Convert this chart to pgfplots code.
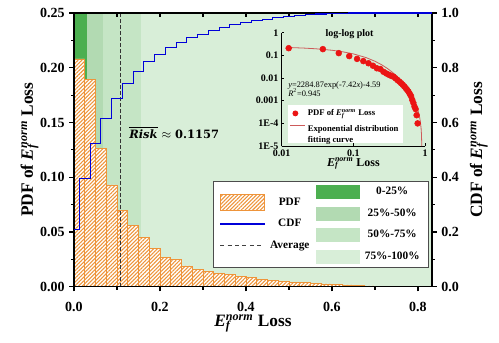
\documentclass[border=0pt]{standalone}
\usepackage{pgfplots}
\pgfplotsset{compat=1.18}
\usepackage{pgfplotstable}
\usepackage{fontspec}
\setmainfont{Liberation Serif}
\newfontfamily\riskfont{DejaVu Serif}
\usetikzlibrary{patterns.meta,calc}

\definecolor{hatch}{RGB}{238,148,58}
\definecolor{gA}{RGB}{76,175,80}
\definecolor{gB}{RGB}{178,218,178}
\definecolor{gC}{RGB}{197,229,197}
\definecolor{gD}{RGB}{216,238,216}
\definecolor{cdfblue}{RGB}{30,40,210}
\definecolor{dotred}{RGB}{235,20,20}
\definecolor{fitred}{RGB}{205,90,90}

\newcommand{\Ef}{\textit{E}\makebox[0pt][l]{\textsubscript{\textit{f}}}\textsuperscript{\textit{norm}}}

\pgfplotstableread{
xc pdf
0.0125 0.208
0.0375 0.189
0.0625 0.126
0.0875 0.093
0.1125 0.070
0.1375 0.056
0.1625 0.045
0.1875 0.035
0.2125 0.027
0.2375 0.025
0.2625 0.019
0.2875 0.016
0.3125 0.014
0.3375 0.0125
0.3625 0.0115
0.3875 0.0097
0.4125 0.0082
0.4375 0.007
0.4625 0.006
0.4875 0.0051
0.5125 0.0043
0.5375 0.0036
0.5625 0.003
0.5875 0.0025
0.6125 0.0020
0.6375 0.0016
0.6625 0.0011
0.6875 0.0008
0.7125 0.00055
0.7375 0.00043
0.7625 0.00023
0.7875 0.0001
}\pdfdata

\pgfplotstableread{
x y
0.012 0.2238
0.02 0.2109
0.03 0.1958
0.05 0.1688
0.07 0.1455
0.1 0.1164
0.15 0.0802
0.2 0.0552
0.25 0.0380
0.3 0.0262
0.35 0.0180
0.4 0.0123
0.45 0.0084
0.5 0.0057
0.55 0.00384
0.6 0.00256
0.65 0.00167
0.7 0.00106
0.75 0.000642
0.8 0.000351
0.82 0.000261
0.84 0.000184
0.86 0.000118
0.88 0.0000607
0.89 0.0000352
0.9 0.0000115
0.9012 0.00001
}\fitdata

\begin{document}
\begin{tikzpicture}
% ---------- main PDF axis ----------
\begin{axis}[name=main, scale only axis, width=268.5pt, height=205.3pt,
  xmin=0, xmax=0.8326, ymin=0, ymax=0.25,
  axis x line*=bottom, axis y line*=left,
  axis line style={line width=0.9pt},
  tick align=outside, major tick length=3.5pt, minor tick length=2.2pt,
  tick style={black, line width=0.8pt},
  xtick={0,0.2,0.4,0.6,0.8}, xticklabels={0.0,0.2,0.4,0.6,0.8},
  minor xtick={0.1,0.3,0.5,0.7},
  ytick={0,0.05,0.1,0.15,0.2,0.25}, yticklabels={0.00,0.05,0.10,0.15,0.20,0.25},
  minor ytick={0.025,0.075,0.125,0.175,0.225},
  ticklabel style={font=\fontsize{10.5}{12}\selectfont\bfseries},
  xticklabel style={yshift=-4.5pt},
  xlabel={\Ef{} Loss}, ylabel={PDF of \Ef{} Loss},
  label style={font=\fontsize{13}{15}\selectfont\bfseries},
  xlabel style={at={(axis description cs:0.5,-0.146)}, anchor=base},
  ylabel style={at={(axis description cs:-0.115,0.5)}, anchor=base},
]
\addplot[fill=gD, draw=none] coordinates {(0.155,0.25) (0.8326,0.25)} \closedcycle;
\addplot[fill=gC, draw=none] coordinates {(0.068,0.25) (0.155,0.25)} \closedcycle;
\addplot[fill=gB, draw=none] coordinates {(0.0295,0.25) (0.068,0.25)} \closedcycle;
\addplot[fill=gA, draw=none] coordinates {(0,0.25) (0.0295,0.25)} \closedcycle;
\addplot[ybar, bar width=0.025, bar shift=0pt, draw=hatch, line width=0.5pt, fill=white,
  postaction={pattern={Lines[angle=45,distance=2pt,line width=0.8pt]}, pattern color=hatch}]
  table[x=xc,y=pdf]{\pdfdata};
\addplot[black!80, line width=0.6pt, dash pattern=on 2.5pt off 2pt] coordinates {(0.108,0) (0.108,0.25)};
\node[anchor=base west, inner sep=0pt, font=\riskfont\fontsize{8.6}{10}\selectfont\bfseries]
  at (axis cs:0.128,0.1357) {$\overline{\hbox{\itshape Risk}}$ $\approx$ 0.1157};
\end{axis}

% ---------- box with inside top ticks ----------
\begin{axis}[at={(main.south west)}, anchor=south west, scale only axis,
  width=268.5pt, height=205.3pt,
  xmin=0, xmax=0.8326, ymin=0, ymax=1,
  axis line style={line width=0.9pt},
  tick align=inside, major tick length=3pt, minor tick length=3pt,
  tick style={black, line width=0.8pt},
  xtick pos=top, ytick=\empty,
  xtick={0,0.2,0.4,0.6,0.8}, minor xtick={0.1,0.3,0.5,0.7}, xticklabels={},
]
\addplot[draw=none, mark=none, forget plot] coordinates {(0,0) (0.8,1)};
\end{axis}

% ---------- CDF axis (right) ----------
\begin{axis}[at={(main.south west)}, anchor=south west, scale only axis,
  width=268.5pt, height=205.3pt,
  xmin=0, xmax=0.8326, ymin=0, ymax=1,
  axis x line*=top, axis y line*=right, xtick=\empty,
  axis line style={line width=0.9pt},
  tick align=outside, major tick length=3.5pt, minor tick length=2.2pt,
  tick style={black, line width=0.8pt},
  ytick={0,0.2,0.4,0.6,0.8,1}, yticklabels={0.0,0.2,0.4,0.6,0.8,1.0},
  minor ytick={0.1,0.3,0.5,0.7,0.9},
  ticklabel style={font=\fontsize{10.5}{12}\selectfont\bfseries},
  ylabel={CDF of \Ef{} Loss},
  label style={font=\fontsize{13}{15}\selectfont\bfseries},
  ylabel style={at={(axis description cs:1.14,0.5)}, anchor=base},
  legend columns=2, legend cell align=center,
  legend style={at={(axis description cs:0.993,0.068)}, anchor=south east,
    draw=black!70, line width=0.8pt, fill=white, inner xsep=5pt, inner ysep=0pt,
    row sep=0pt, font=\fontsize{8.5}{10}\selectfont\bfseries,
    nodes={inner xsep=2pt},
    /tikz/every odd column/.append style={column sep=2pt},
    /tikz/every even column/.append style={column sep=3pt}},
]
\addplot[sharp plot, draw=blue!85!black, line width=0.8pt, mark=none, forget plot, line join=miter]
  coordinates {(0,0.208) (0.0125,0.208) (0.0125,0.397) (0.0375,0.397) (0.0375,0.523) (0.0625,0.523)
  (0.0625,0.616) (0.0875,0.616) (0.0875,0.686) (0.1125,0.686) (0.1125,0.742) (0.1375,0.742)
  (0.1375,0.787) (0.1625,0.787) (0.1625,0.822) (0.1875,0.822) (0.1875,0.849) (0.2125,0.849)
  (0.2125,0.874) (0.2375,0.874) (0.2375,0.893) (0.2625,0.893) (0.2625,0.909) (0.2875,0.909)
  (0.2875,0.923) (0.3125,0.923) (0.3125,0.9355) (0.3375,0.9355) (0.3375,0.947) (0.3625,0.947)
  (0.3625,0.9567) (0.3875,0.9567) (0.3875,0.9649) (0.4125,0.9649) (0.4125,0.9719) (0.4375,0.9719)
  (0.4375,0.9779) (0.4625,0.9779) (0.4625,0.983) (0.4875,0.983) (0.4875,0.9873) (0.5125,0.9873)
  (0.5125,0.9909) (0.5375,0.9909) (0.5375,0.9939) (0.5625,0.9939) (0.5625,0.9964) (0.5875,0.9964)
  (0.5875,0.9984) (0.6125,0.9984) (0.6125,0.9995) (0.6375,0.9995) (0.6375,1.0) (0.8326,1.0)};
\addlegendimage{legend image code/.code={
  \path[draw=none,fill=none] (0pt,-8.1pt) rectangle (33.5pt,8.1pt);
  \draw[overlay, draw=hatch, line width=0.5pt, fill=white,
   postaction={pattern={Lines[angle=45,distance=2pt,line width=0.8pt]}, pattern color=hatch}]
   (0pt,-13.8pt) rectangle (33.5pt,-1.8pt);}}
\addlegendentry{\raisebox{-10.6pt}[0pt][0pt]{PDF}}
\addlegendimage{legend image code/.code={
  \path[draw=none,fill=none] (0pt,-8.1pt) rectangle (32.5pt,8.1pt);
  \fill[gA, draw=none] (0pt,-5.3pt) rectangle (32.5pt,5.3pt);}}
\addlegendentry{0-25\%}
\addlegendimage{legend image code/.code={
  \path[draw=none,fill=none] (0pt,-8.1pt) rectangle (33.5pt,8.1pt);
  \draw[overlay, blue!85!black, line width=0.8pt] (0pt,-7.8pt) -- (33.5pt,-7.8pt);}}
\addlegendentry{\raisebox{-10.6pt}[0pt][0pt]{CDF}}
\addlegendimage{legend image code/.code={
  \path[draw=none,fill=none] (0pt,-8.1pt) rectangle (32.5pt,8.1pt);
  \fill[gB, draw=none] (0pt,-5.3pt) rectangle (32.5pt,5.3pt);}}
\addlegendentry{25\%-50\%}
\addlegendimage{legend image code/.code={
  \path[draw=none,fill=none] (0pt,-8.1pt) rectangle (33.5pt,8.1pt);
  \draw[overlay, black!75, line width=0.7pt, dash pattern=on 3pt off 2.6pt] (0pt,-7.8pt) -- (33.5pt,-7.8pt);}}
\addlegendentry{\raisebox{-10.6pt}[0pt][0pt]{Average}}
\addlegendimage{legend image code/.code={
  \path[draw=none,fill=none] (0pt,-8.1pt) rectangle (32.5pt,8.1pt);
  \fill[gC, draw=none] (0pt,-5.3pt) rectangle (32.5pt,5.3pt);}}
\addlegendentry{50\%-75\%}
\addlegendimage{legend image code/.code={
  \path[draw=none,fill=none] (0pt,-8.1pt) rectangle (33.5pt,8.1pt);}}
\addlegendentry{}
\addlegendimage{legend image code/.code={
  \path[draw=none,fill=none] (0pt,-8.1pt) rectangle (32.5pt,8.1pt);
  \fill[gD, draw=none] (0pt,-5.3pt) rectangle (32.5pt,5.3pt);}}
\addlegendentry{75\%-100\%}
\end{axis}

% ---------- inset log-log ----------
\begin{axis}[at={($(main.south west)+(155.8pt,105.5pt)$)}, anchor=south west,
  scale only axis, width=107.5pt, height=85pt, clip=false,
  xmode=log, ymode=log, xmin=0.01, xmax=1, ymin=1e-5, ymax=1,
  axis lines=left, axis line style={-, line width=0.6pt},
  tick align=inside, major tick length=2pt, tick style={black, line width=0.5pt},
  xminorticks=false, yminorticks=false,
  xtick={0.01,0.1,1}, xticklabels={0.01,0.1,1},
  ytick={1e-5,1e-4,0.001,0.01,0.1,1}, yticklabels={1E-5,1E-4,0.001,0.01,0.1,1},
  ticklabel style={font=\fontsize{7.5}{8}\selectfont\bfseries},
  yticklabel style={xshift=1pt},
  xticklabel style={yshift=1pt},
  xlabel={\Ef{} Loss},
  xlabel style={font=\fontsize{9}{10}\selectfont\bfseries, at={(axis description cs:0.5,-0.18)}, anchor=base},
  legend cell align=left,
  legend style={at={(axis description cs:0.044,0.025)}, anchor=south west,
    draw=none, fill=white, inner xsep=1pt, inner ysep=1pt, row sep=0.5pt,
    font=\fontsize{6.5}{8.6}\selectfont\bfseries},
]
\addplot[only marks, mark=*, mark size=2.2pt, dotred, forget plot]
  table[x=xc,y=pdf]{\pdfdata};
\addplot[fitred, line width=0.6pt, mark=none, forget plot]
  table[x=x,y=y]{\fitdata};
\addlegendimage{legend image code/.code={
  \path[draw=none,fill=none] (0pt,0pt) -- (11pt,0pt);
  \fill[dotred, draw=none] (4pt,0pt) circle (2.2pt);}}
\addlegendentry{PDF of \Ef{} Loss}
\addlegendimage{legend image code/.code={
  \draw[fitred, line width=0.6pt] (0pt,4.3pt) -- (11pt,4.3pt);}}
\addlegendentry{\begin{tabular}{@{}l@{}}Exponential distribution\\fitting curve\end{tabular}}
\node[font=\fontsize{7.5}{9}\selectfont\bfseries, anchor=center] at (axis description cs:0.473,0.99) {log-log plot};
\node[font=\fontsize{6.3}{7.5}\selectfont, anchor=base west, inner sep=0pt] at (axis description cs:0.044,0.52)
  {\textit{y}=2284.87exp(-7.42\textit{x})-4.59};
\node[font=\fontsize{6.3}{7.5}\selectfont, anchor=base west, inner sep=0pt] at (axis description cs:0.044,0.44)
  {\textit{R}\textsuperscript{2}=0.945};
\end{axis}

\pgfresetboundingbox
\path ($(main.south west)+(-55.5pt,-41.5pt)$) rectangle ($(main.north east)+(50.25pt,9.75pt)$);
\end{tikzpicture}
\end{document}
